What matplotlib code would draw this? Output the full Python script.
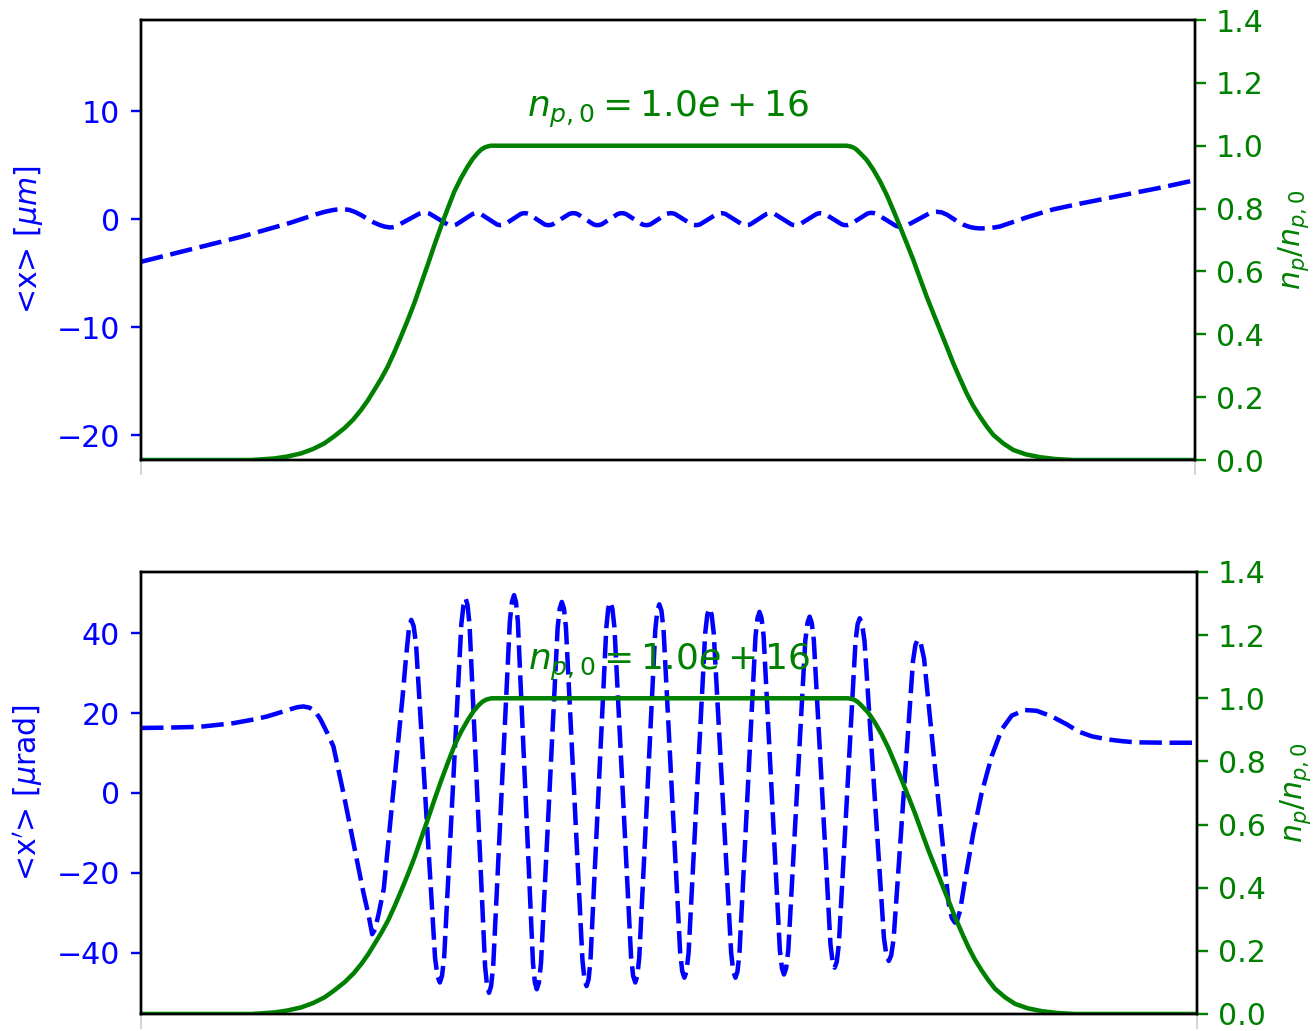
import matplotlib
matplotlib.use("Agg")
import matplotlib.pyplot as plt

# propagation distance along the plasma cell (arb. units)
z_range = [0, 1054]

# normalised plasma density profile n_p / n_p0
z_dens = [0, 90, 110, 120, 133.3, 146, 160, 172, 183.3, 193, 203.3, 212, 220,
          226.7, 233.3, 240, 246.7, 253.3, 260, 266.7, 273.3, 280, 286.7,
          293.3, 300, 306.7, 313.3, 320, 326.7, 331.7, 336.7, 340.3, 344,
          347, 350, 705.7, 709, 712, 715.5, 719, 725.7, 732.3, 739, 745.7,
          752.3, 759, 765.7, 772.3, 779, 785.7, 792.3, 799, 805.7, 812.3,
          819, 825.7, 832.3, 839, 845.7, 852.3, 862.3, 872.3, 885, 899, 915,
          932.3, 1054]
dens = [0.0, 0.0, 0.0, 0.002, 0.005, 0.011, 0.021, 0.035, 0.053, 0.075,
        0.101, 0.128, 0.159, 0.189, 0.223, 0.258, 0.297, 0.343, 0.393, 0.445,
        0.499, 0.560, 0.621, 0.683, 0.743, 0.800, 0.854, 0.897, 0.934, 0.958,
        0.977, 0.988, 0.995, 0.998, 1.0, 1.0, 0.998, 0.995, 0.988, 0.977,
        0.955, 0.924, 0.887, 0.844, 0.795, 0.743, 0.690, 0.637, 0.578, 0.520,
        0.467, 0.414, 0.361, 0.308, 0.259, 0.212, 0.172, 0.138, 0.107, 0.080,
        0.053, 0.032, 0.018, 0.009, 0.003, 0.0, 0.0]
n0 = 1.0e16

# beam centroid <x> [um]
z_x = [0, 33.3, 66.7, 100, 133.3, 149, 162, 176, 184, 192, 197, 202, 208,
       214, 220, 226, 233, 239, 244, 249, 251.9, 254.8, 266.5, 278.2, 281.1,
       284, 286.3, 288.5, 297.6, 306.7, 308.9, 311.2, 313.2, 315.3, 323.5,
       331.6, 333.7, 335.7, 337.7, 339.7, 347.8, 355.8, 357.8, 359.8, 361.8,
       363.8, 371.8, 379.7, 381.7, 383.7, 385.7, 387.7, 395.6, 403.5, 405.5,
       407.5, 409.6, 411.7, 420.0, 428.2, 430.3, 432.4, 434.4, 436.4, 444.5,
       452.5, 454.5, 456.5, 458.5, 460.6, 468.7, 476.8, 478.8, 480.8, 482.8,
       484.9, 493.1, 501.2, 503.3, 505.3, 507.3, 509.4, 517.6, 525.7, 527.8,
       529.8, 531.9, 534.0, 542.3, 550.6, 552.7, 554.8, 556.9, 559.1, 567.6,
       576.0, 578.2, 580.3, 582.4, 584.5, 592.8, 601.1, 603.2, 605.3, 607.3,
       609.3, 617.4, 625.5, 627.5, 629.5, 631.6, 633.7, 642.0, 650.3, 652.4,
       654.5, 656.6, 658.7, 667.2, 675.6, 677.7, 679.8, 681.9, 684.0, 692.4,
       700.8, 702.9, 705, 707.1, 709.3, 717.8, 726.3, 728.4, 730.5, 732.9,
       735.3, 745.0, 754.7, 757.1, 759.5, 762.5, 765.5, 777.5, 789.5, 792.5,
       795.5, 800.5, 806, 812.3, 817, 822.3, 826.5, 830.7, 835, 839, 844,
       851, 859, 872, 885.7, 899, 912.3, 939, 965.7, 992.3, 1019, 1054]
x_mean = [-3.95, -3.18, -2.41, -1.64, -0.76, -0.35, 0.05, 0.47, 0.68, 0.84,
          0.90, 0.92, 0.86, 0.66, 0.38, 0.05, -0.32, -0.56, -0.70, -0.77,
          -0.747, -0.679, -0.09, 0.499, 0.567, 0.59, 0.570, 0.512, 0.005,
          -0.502, -0.560, -0.58, -0.561, -0.504, -0.015, 0.474, 0.531, 0.55,
          0.531, 0.476, -0.005, -0.486, -0.541, -0.56, -0.541, -0.486,
          -0.005, 0.476, 0.531, 0.55, 0.531, 0.476, -0.005, -0.486, -0.541,
          -0.56, -0.541, -0.486, -0.005, 0.476, 0.531, 0.55, 0.531, 0.476,
          -0.005, -0.486, -0.541, -0.56, -0.541, -0.486, -0.005, 0.476,
          0.531, 0.55, 0.531, 0.476, -0.005, -0.486, -0.541, -0.56, -0.541,
          -0.486, -0.005, 0.476, 0.531, 0.55, 0.531, 0.476, -0.005, -0.486,
          -0.541, -0.56, -0.541, -0.486, -0.005, 0.476, 0.531, 0.55, 0.531,
          0.476, -0.005, -0.486, -0.541, -0.56, -0.541, -0.486, -0.005,
          0.476, 0.531, 0.55, 0.531, 0.476, -0.005, -0.486, -0.541, -0.56,
          -0.541, -0.486, -0.005, 0.476, 0.531, 0.55, 0.531, 0.476, -0.005,
          -0.486, -0.541, -0.56, -0.541, -0.484, 0.01, 0.504, 0.561, 0.58,
          0.558, 0.494, -0.06, -0.614, -0.678, -0.70, -0.677, -0.608, -0.01,
          0.588, 0.657, 0.68, 0.63, 0.41, 0.03, -0.25, -0.51, -0.66, -0.77,
          -0.83, -0.86, -0.85, -0.81, -0.68, -0.27, 0.16, 0.54, 0.90, 1.43,
          1.92, 2.40, 2.90, 3.60]

# beam centroid angle <x'> [urad]
z_xp = [0, 29, 59, 92, 114, 126, 139, 149, 156, 162, 168, 174, 179, 186,
        192, 202, 212, 222, 227, 230.7, 233.5, 237, 242.3, 251.7, 261, 264.5,
        267.3, 269.7, 272.1, 274.5, 284.0, 293.5, 295.9, 298.3, 300.4, 302.6,
        311.2, 319.7, 321.9, 324, 325.9, 327.9, 335.7, 343.4, 345.4, 347.3,
        349.4, 351.5, 359.8, 368.1, 370.2, 372.3, 374.2, 376.1, 383.7, 391.2,
        393.1, 395, 397.1, 399.2, 407.5, 415.8, 417.9, 420, 422.1, 424.1,
        432.4, 440.6, 442.6, 444.7, 446.7, 448.6, 456.5, 464.4, 466.3, 468.3,
        470.4, 472.5, 480.8, 489.1, 491.2, 493.3, 495.3, 497.3, 505.3, 513.3,
        515.3, 517.3, 519.4, 521.5, 529.8, 538.1, 540.2, 542.3, 544.4, 546.5,
        554.8, 563.1, 565.2, 567.3, 569.5, 571.6, 580.3, 589.0, 591.1, 593.3,
        595.3, 597.3, 605.3, 613.3, 615.3, 617.3, 619.3, 621.4, 629.5, 637.6,
        639.7, 641.7, 643.8, 646.0, 654.5, 663.0, 665.2, 667.3, 669.4, 671.5,
        679.8, 688.1, 690.2, 692.3, 694.4, 696.5, 704.8, 713.1, 715.2, 717.3,
        719.7, 722.1, 731.8, 741.5, 743.9, 746.3, 748.7, 751.1, 760.8, 770.5,
        772.9, 775.3, 778.4, 781.5, 793.8, 806.1, 809.2, 812.3, 814.5, 817.5,
        822.3, 830.7, 839, 849, 859, 869, 882.3, 894, 909, 924, 935.7, 949,
        965.7, 979, 992.3, 1024, 1054]
xp_mean = [16.3, 16.4, 16.6, 17.5, 18.5, 19.2, 20.2, 21.0, 21.5, 21.7, 21.4,
           20.4, 18.5, 15.0, 11.7, 0.0, -12.5, -25.0, -30.5, -35.4, -34.2,
           -30.5, -24.0, 0.0, 24.0, 34.0, 41.0, 43.4, 41.85, 37.31, -2.05,
           -41.41, -45.95, -47.5, -45.86, -41.05, 0.65, 42.35, 47.16, 48.8,
           47.12, 42.17, -0.65, -43.47, -48.42, -50.1, -48.41, -43.42, -0.25,
           42.92, 47.91, 49.6, 47.92, 42.98, 0.2, -42.58, -47.52, -49.2,
           -47.55, -42.69, -0.65, 41.39, 46.25, 47.9, 46.26, 41.45, -0.25,
           -41.95, -46.76, -48.4, -46.76, -41.95, -0.25, 41.45, 46.26, 47.9,
           46.28, 41.51, 0.2, -41.11, -45.88, -47.5, -45.89, -41.15, -0.1,
           40.95, 45.69, 47.3, 45.71, 41.03, 0.5, -40.03, -44.71, -46.3,
           -44.73, -40.10, 0.0, 40.10, 44.73, 46.3, 44.73, 40.10, 0.0, -40.10,
           -44.73, -46.3, -44.74, -40.16, -0.45, 39.26, 43.84, 45.4, 43.85,
           39.31, -0.05, -39.41, -43.95, -45.5, -43.98, -39.49, -0.65, 38.19,
           42.68, 44.2, 42.70, 38.30, 0.2, -37.9, -42.3, -43.8, -42.31, -37.93,
           0.0, 37.93, 42.31, 43.8, 42.34, 38.05, 0.85, -36.35, -40.64, -42.1,
           -40.73, -36.70, -1.8, 33.1, 37.13, 38.5, 37.29, 33.74, 3.0, -27.74,
           -31.29, -32.5, -32.0, -29.5, -22.0, -10.0, 0.0, 9.2, 15.9, 19.4,
           20.8, 20.6, 19.2, 17.2, 15.4, 14.2, 13.4, 13.0, 12.7, 12.6, 12.6]

panels = [
    (z_x, x_mean, r"<x> [$\mu m$]", (-22.3, 18.43), [0.1074, 0.5538, 0.8027, 0.4268]),
    (z_xp, xp_mean, r"<x$'$> [$\mu$rad]", (-55.4, 55.4), [0.1074, 0.0165, 0.8043, 0.4287]),
]

fig = plt.figure(figsize=(1313 / 216, 1031 / 216), dpi=216)
for z, val, ylab, ylim, rect in panels:
    axis = fig.add_axes(rect)
    axis.plot(z, val, "b--", lw=1.5, dashes=(5, 1.7))
    axis.set_xlim(z_range)
    axis.set_ylim(ylim)
    axis.set_ylabel(ylab, color="b")
    axis.tick_params(axis="y", colors="b")
    axis.set_xticks(z_range)
    axis.set_xticklabels([])
    axis.tick_params(axis="x", color="#c8c8c8", length=5, width=0.5)

    twin = axis.twinx()
    twin.plot(z_dens, dens, "g-", lw=1.5)
    twin.set_ylim(0, 1.4)
    twin.set_ylabel(r"$n_p/n_{p,0}$", color="g")
    twin.tick_params(axis="y", colors="g")
    twin.text(sum(z_range) / 2, 1.09, rf"$n_{{p,0}} = {n0:.1e}$",
              color="g", ha="center", fontsize=12)

fig.savefig("out.png", dpi=216)
